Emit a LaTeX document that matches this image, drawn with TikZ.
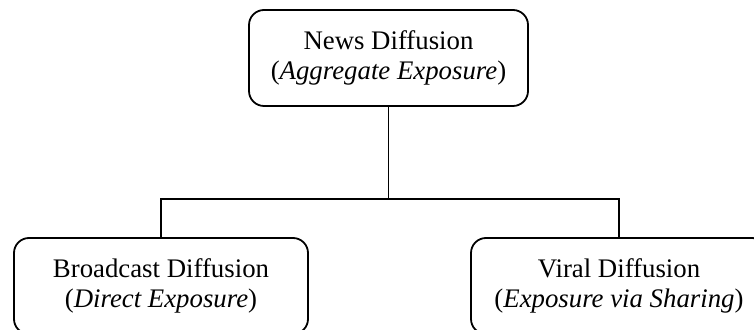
\documentclass[tikz,border=0pt]{standalone}
\usepackage{fontspec}
\setmainfont{Liberation Serif}
\begin{document}
\begin{tikzpicture}[x=0.5pt,y=-0.5pt,
  diffbox/.style={draw,rounded corners=7.5pt,line width=0.9pt,minimum height=48pt,
    align=center,inner sep=0pt,font=\fontsize{13.4}{14.6}\selectfont},
  link/.style={line width=0.9pt}]
  \useasboundingbox (0,0) rectangle (754,330);
  \clip (0,0) rectangle (754,330);
  \node[diffbox,minimum width=139.5pt] (news) at (388.5,58) {News Diffusion\\(\textit{Aggregate Exposure})};
  \node[diffbox,minimum width=147pt] (broad) at (161,286) {Broadcast Diffusion\\(\textit{Direct Exposure})};
  \node[diffbox,minimum width=148pt] (viral) at (619,286) {Viral Diffusion\\(\textit{Exposure via Sharing})};
  \coordinate (split) at (388.5,199);
  \draw[link] (news.south) -- (split);
  \draw[link] (split) -| (broad.north);
  \draw[link] (split) -| (viral.north);
\end{tikzpicture}
\end{document}
